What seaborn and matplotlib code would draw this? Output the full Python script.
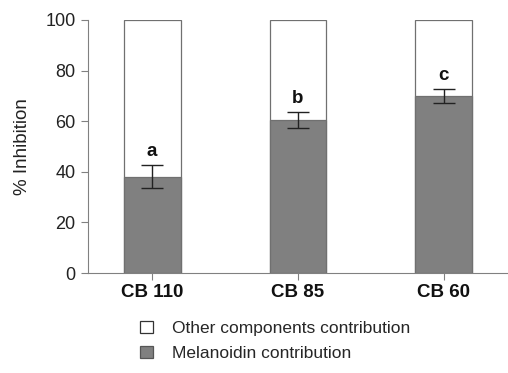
import matplotlib
matplotlib.use("Agg")
import matplotlib.pyplot as plt
import seaborn as sns
import pandas as pd
import numpy as np
from matplotlib.patches import Patch

categories = ["CB 110", "CB 85", "CB 60"]
melanoidin = [38, 60.5, 70]
total = [100, 100, 100]
errors = [4.5, 3.0, 2.8]
letters = ["a", "b", "c"]
yticks = [0, 20, 40, 60, 80, 100]

sns.set_theme(style="white")
plt.rcParams["font.family"] = ["Liberation Sans", "DejaVu Sans"]

df = pd.DataFrame({"cat": categories, "mel": melanoidin, "tot": total, "err": errors})

fig = plt.figure(figsize=(5.08, 3.73), dpi=100)
ax = fig.add_axes([88/508, 100/373, 1 - 88/508, (273-20)/373])

edge = "#707070"
sns.barplot(data=df, x="cat", y="tot", color="white", edgecolor=edge, linewidth=0.9,
            width=0.39, saturation=1, ax=ax)
sns.barplot(data=df, x="cat", y="mel", color="#808080", edgecolor=edge, linewidth=0.9,
            width=0.39, saturation=1, ax=ax)

xs = np.arange(len(categories))
ax.errorbar(xs, df["mel"], yerr=df["err"], fmt="none", ecolor="#222222",
            elinewidth=1.0, capsize=8, capthick=1.0, zorder=5)
for x, m, e, l in zip(xs, melanoidin, errors, letters):
    ax.text(x, m + e + 2.0, l, ha="center", va="bottom", fontsize=13.5,
            fontweight="bold", color="#111111")

ax.set_ylim(0, 100)
ax.set_xlim(-0.44, 2.44)
ax.set_yticks(yticks)
ax.set_xlabel("")
ax.set_ylabel("% Inhibition", fontsize=13.5, color="#222222", labelpad=10)
ax.set_xticks(xs)
ax.set_xticklabels(categories, fontsize=13.5, fontweight="bold", color="#111111")
ax.tick_params(axis="y", labelsize=13, length=5, color="#808080", width=0.8, left=True,
               labelcolor="#222222", pad=4)
ax.tick_params(axis="x", length=5, color="#808080", width=0.8, bottom=True, pad=3)
for s in ["top", "right"]:
    ax.spines[s].set_visible(False)
for s in ["left", "bottom"]:
    ax.spines[s].set_color("#808080")
    ax.spines[s].set_linewidth(0.8)

handles = [Patch(facecolor="white", edgecolor="#333333", linewidth=0.9),
           Patch(facecolor="#808080", edgecolor="#555555", linewidth=0.9)]
fig.legend(handles, ["Other components contribution", "Melanoidin contribution"],
           loc="upper left", bbox_to_anchor=(131/508, 1 - 312/373), frameon=False,
           fontsize=12.5, handlelength=0.75, handleheight=0.75, labelspacing=0.55,
           handletextpad=1.1, borderpad=0)

fig.savefig("out.png", dpi=100)
